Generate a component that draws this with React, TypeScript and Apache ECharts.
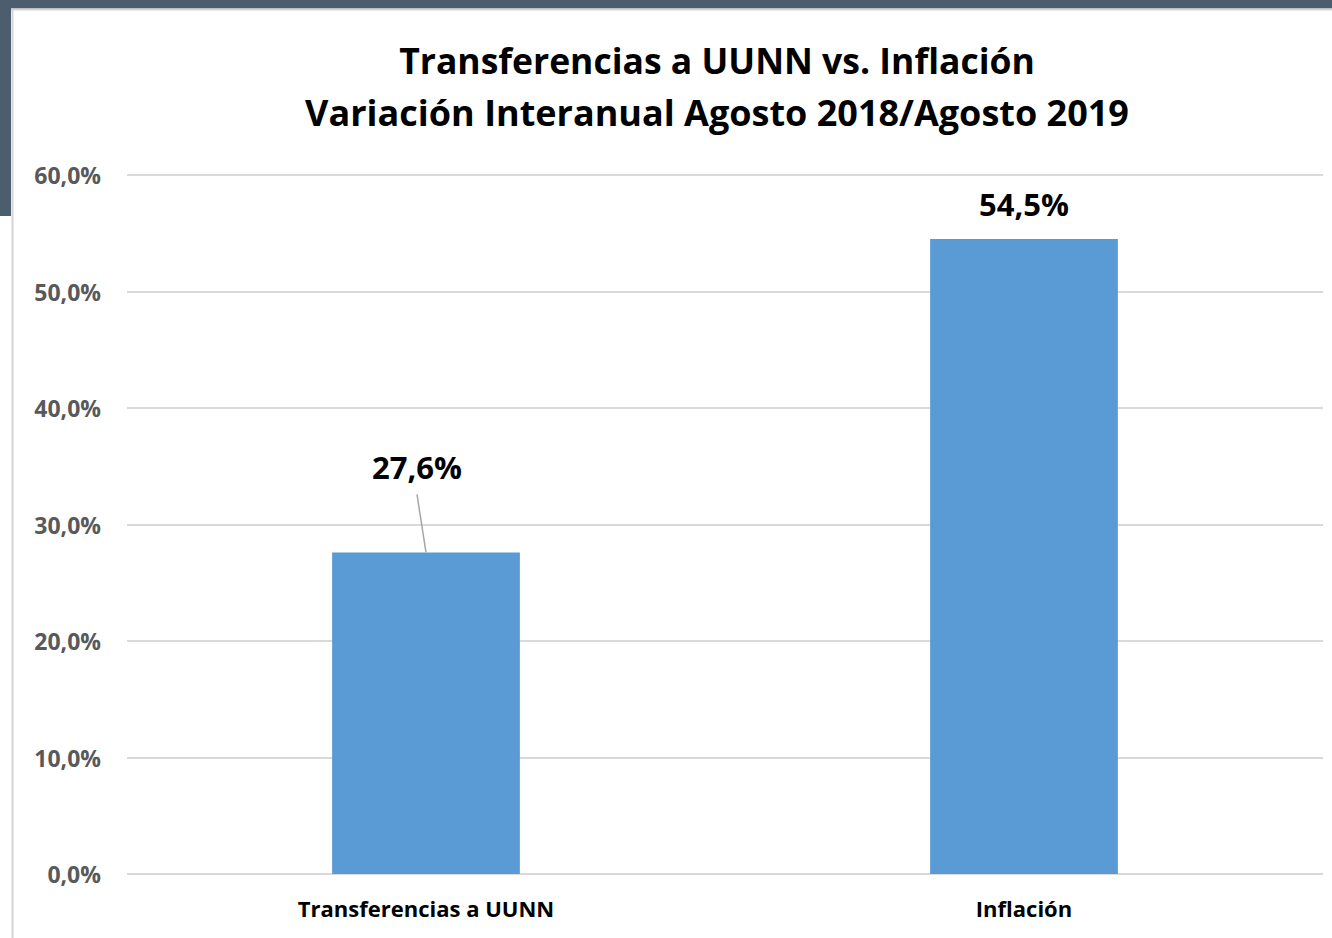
import React, { useEffect, useRef } from "react";
import * as echarts from "echarts";

const categories = ["Transferencias a UUNN", "Inflación"];
const values = [27.6, 54.5];
const yTicks = { min: 0, max: 60, interval: 10 };
const titleLines = [
  "Transferencias a UUNN vs. Inflación",
  "Variación Interanual Agosto 2018/Agosto 2019",
];

const FONT = "'Open Sans', 'Liberation Sans', sans-serif";

export default function App() {
  const ref = useRef<HTMLDivElement>(null);
  useEffect(() => {
    if (!ref.current) return;
    const chart = echarts.init(ref.current, null, { renderer: "svg" });
    const fmt = (v: number) => v.toFixed(1).replace(".", ",") + "%";
    chart.setOption({
      animation: false,
      backgroundColor: "#ffffff",
      textStyle: { fontFamily: FONT },
      graphic: [
        { type: "rect", shape: { x: 0, y: 0, width: 1332, height: 8.5 }, style: { fill: "#4c5d6d" }, z: 0 },
        { type: "rect", shape: { x: 0, y: 0, width: 11, height: 216 }, style: { fill: "#4c5d6d" }, z: 0 },
        { type: "line", shape: { x1: 11, y1: 9.5, x2: 1332, y2: 9.5 }, style: { stroke: "#d4d4d4", lineWidth: 2 }, z: 0 },
        { type: "line", shape: { x1: 12.5, y1: 9, x2: 12.5, y2: 938 }, style: { stroke: "#d4d4d4", lineWidth: 2 }, z: 0 },
        {
          type: "text",
          x: 717,
          y: 60,
          style: { text: titleLines[0], fontFamily: FONT, fontWeight: "bold", fontSize: 35.5, fill: "#000000", textAlign: "center", textVerticalAlign: "middle" },
        },
        {
          type: "text",
          x: 717,
          y: 112,
          style: { text: titleLines[1], fontFamily: FONT, fontWeight: "bold", fontSize: 36, fill: "#000000", textAlign: "center", textVerticalAlign: "middle" },
        },
      ],
      grid: { left: 127, right: 9, top: 175, bottom: 64, containLabel: false },
      xAxis: {
        type: "category",
        data: categories,
        axisLine: { show: false },
        axisTick: { show: false },
        axisLabel: { fontFamily: FONT, fontWeight: "bold", fontSize: 22, color: "#000000", margin: 23 },
      },
      yAxis: {
        type: "value",
        min: yTicks.min,
        max: yTicks.max,
        interval: yTicks.interval,
        axisLine: { show: false },
        axisTick: { show: false },
        splitLine: { lineStyle: { color: "#d9d9d9", width: 2 } },
        axisLabel: { fontFamily: FONT, fontWeight: "bold", fontSize: 23, color: "#595959", margin: 26, formatter: (v: number) => fmt(v) },
      },
      series: [
        {
          type: "bar",
          data: values,
          barWidth: "31.4%",
          itemStyle: { color: "#5b9bd5" },
          label: {
            show: true,
            position: "top",
            distance: 20,
            fontFamily: FONT,
            fontWeight: "bold",
            fontSize: 31,
            color: "#000000",
            formatter: (p: any) => fmt(p.value),
          },
          labelLayout: (params: any) => (params.dataIndex === 0 ? { dx: -9, dy: -50 } : {}),
        },
        {
          type: "custom",
          data: [[0, values[0]]],
          silent: true,
          z: 5,
          renderItem: (params: any, api: any) => {
            const p = api.coord([api.value(0), api.value(1)]);
            return {
              type: "line",
              shape: { x1: p[0] - 9, y1: p[1] - 58, x2: p[0], y2: p[1] },
              style: { stroke: "#a6a6a6", lineWidth: 1.5 },
            };
          },
        },
      ],
    });
    return () => chart.dispose();
  }, []);
  return <div ref={ref} style={{ position: "absolute", left: 0, top: 0, width: 1332, height: 938 }} />;
}
